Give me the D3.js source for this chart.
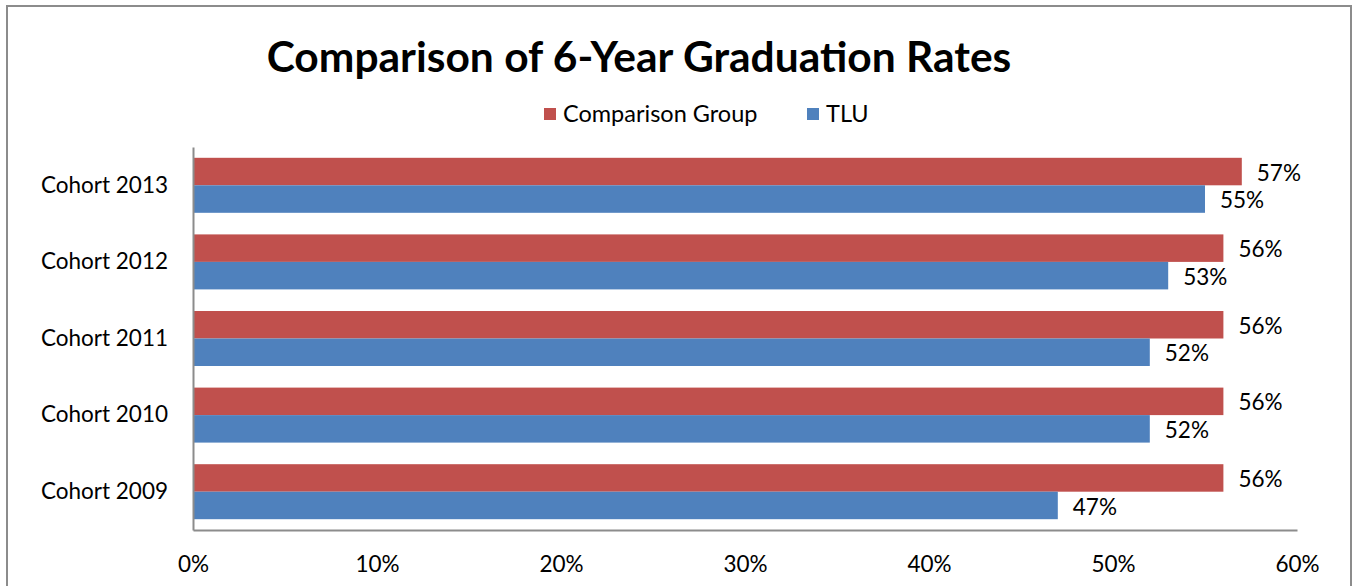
<!DOCTYPE html>
<html>
<head>
<meta charset="utf-8">
<script src="https://cdn.jsdelivr.net/npm/d3@7"></script>
<style>
  html, body { margin: 0; padding: 0; background: #fff; }
  svg { display: block; font-family: Lato, "Open Sans", sans-serif; }
</style>
</head>
<body>
<svg id="chart" width="1357" height="586"></svg>
<script>
const categories = ["Cohort 2013", "Cohort 2012", "Cohort 2011", "Cohort 2010", "Cohort 2009"];
const seriesNames = ["Comparison Group", "TLU"];
const comparisonValues = [0.57, 0.56, 0.56, 0.56, 0.56];
const tluValues = [0.55, 0.53, 0.52, 0.52, 0.47];
const xTicks = [0, 0.1, 0.2, 0.3, 0.4, 0.5, 0.6];
const colors = ["#C0504D", "#4F81BD"];
const title = "Comparison of 6-Year Graduation Rates";

const svg = d3.select("#chart");
const FONT = "Lato, 'Open Sans', sans-serif";

// outer border
svg.append("rect").attr("x", 7).attr("y", 6).attr("width", 1344).attr("height", 600)
  .attr("fill", "#fff").attr("stroke", "#8c8c8c").attr("stroke-width", 2);

const plotLeft = 193, plotRight = 1297, plotTop = 147, plotBottom = 530;
const x = d3.scaleLinear().domain([0, 0.6]).range([plotLeft, plotRight]);
const y = d3.scaleBand().domain(categories).range([plotTop, plotBottom]).paddingInner(0.282).paddingOuter(0.141);
const sub = d3.scaleBand().domain(seriesNames).range([0, y.bandwidth()]);

const seriesData = [comparisonValues, tluValues];

// bars
seriesNames.forEach((s, si) => {
  const g = svg.append("g");
  g.selectAll("rect").data(categories).join("rect")
    .attr("x", x(0))
    .attr("y", c => y(c) + sub(s))
    .attr("width", (c, i) => x(seriesData[si][i]) - x(0))
    .attr("height", sub.bandwidth())
    .attr("fill", colors[si]);
  g.selectAll("text").data(categories).join("text")
    .attr("x", (c, i) => x(seriesData[si][i]) + 15)
    .attr("y", c => y(c) + sub(s) + sub.bandwidth() / 2 + 1)
    .attr("dy", "0.36em")
    .attr("font-size", 22.5)
    .attr("fill", "#000")
    .text((c, i) => d3.format(".0%")(seriesData[si][i]));
});

// axes
const xAxis = d3.axisBottom(x).tickValues(xTicks).tickFormat(d3.format(".0%")).tickSize(0).tickPadding(26);
const gx = svg.append("g").attr("transform", `translate(0,${plotBottom})`).call(xAxis);
gx.select(".domain").attr("stroke", "#8c8c8c").attr("stroke-width", 2);
gx.selectAll("text").attr("font-size", 22.5).attr("fill", "#000").attr("font-family", FONT);

const yAxis = d3.axisLeft(y).tickSize(0).tickPadding(25);
const gy = svg.append("g").attr("transform", `translate(${plotLeft},0)`).call(yAxis);
gy.select(".domain").attr("stroke", "#8c8c8c").attr("stroke-width", 2);
gy.selectAll("text").attr("font-size", 22.5).attr("fill", "#000").attr("font-family", FONT);

// title
svg.append("text").attr("x", 639).attr("y", 72).attr("text-anchor", "middle")
  .attr("font-size", 42.5).attr("font-weight", "bold").attr("fill", "#000").text(title);

// legend
const legendPos = [544, 807];
seriesNames.forEach((s, i) => {
  svg.append("rect").attr("x", legendPos[i]).attr("y", 108).attr("width", 12).attr("height", 12).attr("fill", colors[i]);
  svg.append("text").attr("x", legendPos[i] + 19).attr("y", 114).attr("dy", "0.36em")
    .attr("font-size", 23.5).attr("fill", "#000").text(s);
});
</script>
</body>
</html>
